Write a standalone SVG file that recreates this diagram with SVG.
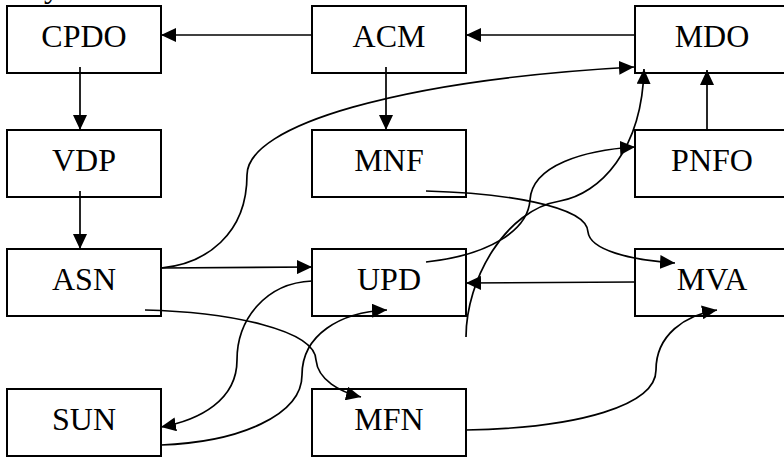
<svg xmlns="http://www.w3.org/2000/svg" width="784" height="458" viewBox="0 0 784 458">
<style>
.box rect{fill:#fff;stroke:#000;stroke-width:2}
.box text{font-family:"Liberation Serif","Times New Roman",serif;font-size:32px;fill:#000;text-anchor:middle}
#connectors path{fill:none;stroke:#000;stroke-width:1.7;marker-end:url(#arr)}
#connectors path.plain{marker-end:none}
</style>
<defs>
<marker id="arr" viewBox="0 0 15 14" refX="15" refY="7" markerUnits="userSpaceOnUse" markerWidth="15" markerHeight="14" orient="auto">
<path d="M0,0 L15,7 L0,14 z" fill="#000"/>
</marker>
</defs>
<rect width="784" height="458" fill="#fff"/>
<text x="44" y="-3" font-family="Liberation Serif, serif" font-size="32">y</text>
<g id="CPDO" class="box"><rect x="7" y="6" width="154" height="67"/><text x="84" y="47">CPDO</text></g>
<g id="ACM" class="box"><rect x="312" y="6" width="154" height="67"/><text x="389" y="47">ACM</text></g>
<g id="MDO" class="box"><rect x="635" y="6" width="154" height="67"/><text x="712" y="47">MDO</text></g>
<g id="VDP" class="box"><rect x="7" y="130" width="154" height="67"/><text x="84" y="171">VDP</text></g>
<g id="MNF" class="box"><rect x="312" y="130" width="154" height="67"/><text x="389" y="171">MNF</text></g>
<g id="PNFO" class="box"><rect x="635" y="130" width="154" height="67"/><text x="712" y="171">PNFO</text></g>
<g id="ASN" class="box"><rect x="7" y="249" width="154" height="67"/><text x="84" y="290">ASN</text></g>
<g id="UPD" class="box"><rect x="312" y="249" width="154" height="67"/><text x="389" y="290">UPD</text></g>
<g id="MVA" class="box"><rect x="635" y="249" width="154" height="67"/><text x="712" y="290">MVA</text></g>
<g id="SUN" class="box"><rect x="7" y="389" width="154" height="67"/><text x="84" y="430">SUN</text></g>
<g id="MFN" class="box"><rect x="312" y="389" width="154" height="67"/><text x="389" y="430">MFN</text></g>
<g id="connectors">
<path d="M312,35 L161,35"/>
<path d="M635,35 L466,35"/>
<path d="M80,67 L80,130"/>
<path d="M386,67 L386,130"/>
<path d="M80,191 L80,249"/>
<path d="M707,130 L707,70"/>
<path d="M161,268 C205,264 247,235 247,175 C247,125 400,80 634,67"/>
<path d="M161,268 L312,267"/>
<path d="M312,281 C265,283 237,320 237,360 C237,400 200,420 161,427"/>
<path d="M161,445 C240,442 302,415 302,375 C302,335 340,312 387,310"/>
<path d="M145,310 C230,312 315,330 316,360 C318,380 340,392 361,397"/>
<path d="M466,430 C580,428 656,405 656,370 C656,335 685,315 717,310"/>
<path d="M635,282 L466,283"/>
<path d="M426,191 C500,193 587,205 588,232 C590,250 630,260 675,263"/>
<path d="M426,262 C490,255 528,230 530,200 C532,165 585,150 635,147"/>
<path d="M466,337 C466,280 505,210 560,201 C600,194 642,150 644,69"/>
</g>
</svg>
